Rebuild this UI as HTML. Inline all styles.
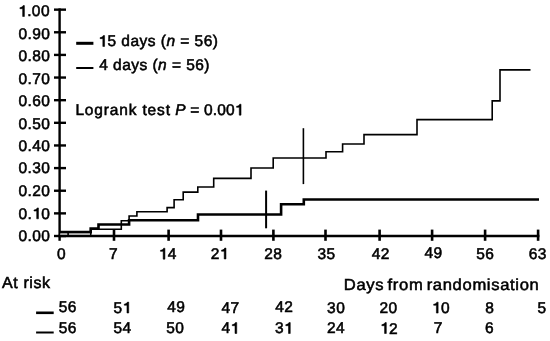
<!DOCTYPE html>
<html><head><meta charset="utf-8"><style>
html,body{margin:0;padding:0;background:#fff;}
body{width:550px;height:341px;overflow:hidden;}
svg{display:block;will-change:transform;}
text{text-rendering:geometricPrecision;font-family:"Liberation Sans", sans-serif;font-size:15.5px;fill:#000;stroke:#000;stroke-width:0.55px;}
.one{fill:none;stroke:none;}
.og{fill:#000;stroke:#000;stroke-width:72.67;}
</style></head><body>
<svg width="550" height="341" viewBox="0 0 550 341">
<rect width="550" height="341" fill="#fff"/>
<line x1="59.6" y1="8.4" x2="59.6" y2="240.8" stroke="#000" stroke-width="2.4"/>
<line x1="54" y1="236.00" x2="66" y2="236.00" stroke="#000" stroke-width="2.4"/>
<line x1="54" y1="213.37" x2="66" y2="213.37" stroke="#000" stroke-width="2.4"/>
<line x1="54" y1="190.73" x2="66" y2="190.73" stroke="#000" stroke-width="2.4"/>
<line x1="54" y1="168.09" x2="66" y2="168.09" stroke="#000" stroke-width="2.4"/>
<line x1="54" y1="145.46" x2="66" y2="145.46" stroke="#000" stroke-width="2.4"/>
<line x1="54" y1="122.82" x2="66" y2="122.82" stroke="#000" stroke-width="2.4"/>
<line x1="54" y1="100.19" x2="66" y2="100.19" stroke="#000" stroke-width="2.4"/>
<line x1="54" y1="77.55" x2="66" y2="77.55" stroke="#000" stroke-width="2.4"/>
<line x1="54" y1="54.92" x2="66" y2="54.92" stroke="#000" stroke-width="2.4"/>
<line x1="54" y1="32.28" x2="66" y2="32.28" stroke="#000" stroke-width="2.4"/>
<line x1="54" y1="9.65" x2="66" y2="9.65" stroke="#000" stroke-width="2.4"/>
<line x1="58.4" y1="236" x2="539.4" y2="236" stroke="#000" stroke-width="2.4"/>
<line x1="114.0" y1="229.6" x2="114.0" y2="240.8" stroke="#000" stroke-width="2.6"/>
<line x1="168.6" y1="229.6" x2="168.6" y2="240.8" stroke="#000" stroke-width="2.6"/>
<line x1="221.0" y1="229.6" x2="221.0" y2="240.8" stroke="#000" stroke-width="2.6"/>
<line x1="273.4" y1="229.6" x2="273.4" y2="240.8" stroke="#000" stroke-width="2.6"/>
<line x1="325.5" y1="229.6" x2="325.5" y2="240.8" stroke="#000" stroke-width="2.6"/>
<line x1="379.6" y1="229.6" x2="379.6" y2="240.8" stroke="#000" stroke-width="2.6"/>
<line x1="432.1" y1="229.6" x2="432.1" y2="240.8" stroke="#000" stroke-width="2.6"/>
<line x1="485.1" y1="229.6" x2="485.1" y2="240.8" stroke="#000" stroke-width="2.6"/>
<line x1="538.1" y1="229.6" x2="538.1" y2="240.8" stroke="#000" stroke-width="2.6"/>
<polyline points="59.6,236 90.7,236 90.7,229.3 121.3,229.3 121.3,220.7 129.1,220.7 129.1,216 136.9,216 136.9,211.8 167.1,211.8 167.1,207.6 174.1,207.6 174.1,199.8 183.2,199.8 183.2,192.1 197.8,192.1 197.8,187 213.7,187 213.7,178.4 251,178.4 251,168 273.2,168 273.2,158 326,158 326,151.7 342.6,151.7 342.6,144 364,144 364,134.6 417,134.6 417,119.6 492.2,119.6 492.2,100.9 500,100.9 500,69.9 530.5,69.9" fill="none" stroke="#000" stroke-width="1.6"/>
<polyline points="59.6,232.1 90.7,232.1 90.7,228.6 98.5,228.6 98.5,224.5 129.1,224.5 129.1,220.2 198,220.2 198,214.5 281.1,214.5 281.1,204.3 303.8,204.3 303.8,199.5 539,199.5" fill="none" stroke="#000" stroke-width="2.6"/>
<line x1="60" y1="234.1" x2="90" y2="234.1" stroke="#aaa" stroke-width="1.4"/>
<rect x="67.3" y="233" width="1.6" height="2.5" fill="#000"/>
<line x1="266.1" y1="190.6" x2="266.1" y2="228.3" stroke="#000" stroke-width="2"/>
<line x1="303.4" y1="128.2" x2="303.4" y2="184.1" stroke="#000" stroke-width="1.6"/>
<line x1="76.2" y1="43.3" x2="93.4" y2="43.3" stroke="#000" stroke-width="3"/>
<line x1="76.2" y1="68" x2="93.4" y2="68" stroke="#000" stroke-width="2"/>
<line x1="36.1" y1="312.8" x2="53.7" y2="312.8" stroke="#000" stroke-width="2.6"/>
<line x1="36.1" y1="332.5" x2="53.7" y2="332.5" stroke="#000" stroke-width="2"/>
<g transform="translate(18.44 240.76) scale(1 1.0)"><text id="t0" x="0" y="0" style="letter-spacing:0.40px;word-spacing:0px;font-size:15.5px">0.00</text></g>
<g transform="translate(18.44 218.82) scale(1 1.0)"><text id="t1" x="0" y="0" style="letter-spacing:0.40px;word-spacing:0px;font-size:15.5px">0.<tspan class="one">1</tspan>0</text><path d="M600,0L830,0L830,1440L660,1440C630,1300 450,1190 240,1170L240,1030L600,1030Z" transform="translate(13.73 0.00) scale(0.007568 -0.007568)" class="og"/></g>
<g transform="translate(18.44 196.13) scale(1 1.0)"><text id="t2" x="0" y="0" style="letter-spacing:0.40px;word-spacing:0px;font-size:15.5px">0.20</text></g>
<g transform="translate(18.44 173.39) scale(1 1.0)"><text id="t3" x="0" y="0" style="letter-spacing:0.40px;word-spacing:0px;font-size:15.5px">0.30</text></g>
<g transform="translate(18.44 151.32) scale(1 1.0)"><text id="t4" x="0" y="0" style="letter-spacing:0.40px;word-spacing:0px;font-size:15.5px">0.40</text></g>
<g transform="translate(18.44 128.62) scale(1 1.0)"><text id="t5" x="0" y="0" style="letter-spacing:0.40px;word-spacing:0px;font-size:15.5px">0.50</text></g>
<g transform="translate(18.44 106.34) scale(1 1.0)"><text id="t6" x="0" y="0" style="letter-spacing:0.40px;word-spacing:0px;font-size:15.5px">0.60</text></g>
<g transform="translate(18.44 83.82) scale(1 1.0)"><text id="t7" x="0" y="0" style="letter-spacing:0.40px;word-spacing:0px;font-size:15.5px">0.70</text></g>
<g transform="translate(18.44 60.90) scale(1 1.0)"><text id="t8" x="0" y="0" style="letter-spacing:0.40px;word-spacing:0px;font-size:15.5px">0.80</text></g>
<g transform="translate(18.44 38.77) scale(1 1.0)"><text id="t9" x="0" y="0" style="letter-spacing:0.40px;word-spacing:0px;font-size:15.5px">0.90</text></g>
<g transform="translate(18.12 16.49) scale(1 1.0)"><text id="t10" x="0" y="0" style="letter-spacing:0.40px;word-spacing:0px;font-size:15.5px"><tspan class="one">1</tspan>.00</text><path d="M600,0L830,0L830,1440L660,1440C630,1300 450,1190 240,1170L240,1030L600,1030Z" transform="translate(0.00 0.00) scale(0.007568 -0.007568)" class="og"/></g>
<g transform="translate(56.94 258.70) scale(1 1.0)"><text id="t11" x="0" y="0" style="letter-spacing:0.40px;word-spacing:0px;font-size:15.5px">0</text></g>
<g transform="translate(109.12 258.51) scale(1 1.0)"><text id="t12" x="0" y="0" style="letter-spacing:0.40px;word-spacing:0px;font-size:15.5px">7</text></g>
<g transform="translate(158.64 259.14) scale(1 1.0)"><text id="t13" x="0" y="0" style="letter-spacing:0.40px;word-spacing:0px;font-size:15.5px"><tspan class="one">1</tspan>4</text><path d="M600,0L830,0L830,1440L660,1440C630,1300 450,1190 240,1170L240,1030L600,1030Z" transform="translate(0.00 0.00) scale(0.007568 -0.007568)" class="og"/></g>
<g transform="translate(210.65 258.99) scale(1 1.0)"><text id="t14" x="0" y="0" style="letter-spacing:0.40px;word-spacing:0px;font-size:15.5px">2<tspan class="one">1</tspan></text><path d="M600,0L830,0L830,1440L660,1440C630,1300 450,1190 240,1170L240,1030L600,1030Z" transform="translate(9.03 0.00) scale(0.007568 -0.007568)" class="og"/></g>
<g transform="translate(264.16 258.70) scale(1 1.0)"><text id="t15" x="0" y="0" style="letter-spacing:0.40px;word-spacing:0px;font-size:15.5px">28</text></g>
<g transform="translate(317.39 259.02) scale(1 1.0)"><text id="t16" x="0" y="0" style="letter-spacing:0.40px;word-spacing:0px;font-size:15.5px">35</text></g>
<g transform="translate(371.75 259.00) scale(1 1.0)"><text id="t17" x="0" y="0" style="letter-spacing:0.40px;word-spacing:0px;font-size:15.5px">42</text></g>
<g transform="translate(424.43 258.40) scale(1 1.0)"><text id="t18" x="0" y="0" style="letter-spacing:0.40px;word-spacing:0px;font-size:15.5px">49</text></g>
<g transform="translate(476.31 258.94) scale(1 1.0)"><text id="t19" x="0" y="0" style="letter-spacing:0.40px;word-spacing:0px;font-size:15.5px">56</text></g>
<g transform="translate(528.83 258.56) scale(1 1.0)"><text id="t20" x="0" y="0" style="letter-spacing:0.40px;word-spacing:0px;font-size:15.5px">63</text></g>
<g transform="translate(98.29 46.45) scale(1 1.0)"><text id="t21" x="0" y="0" style="letter-spacing:0.48px;word-spacing:0px;font-size:15.5px"><tspan class="one">1</tspan>5 days (<tspan font-style="italic">n</tspan> = 56)</text><path d="M600,0L830,0L830,1440L660,1440C630,1300 450,1190 240,1170L240,1030L600,1030Z" transform="translate(0.00 0.00) scale(0.007568 -0.007568)" class="og"/></g>
<g transform="translate(99.20 70.00) scale(1 1.0)"><text id="t22" x="0" y="0" style="letter-spacing:0.46px;word-spacing:0px;font-size:15.5px">4 days (<tspan font-style="italic">n</tspan> = 56)</text></g>
<g transform="translate(75.41 115.45) scale(1 1.0)"><text id="t23" x="0" y="0" style="letter-spacing:0.84px;word-spacing:0px;font-size:15.5px">Logrank test</text></g>
<g transform="translate(175.35 115.13) scale(1 1.0)"><text id="t24" x="0" y="0" style="letter-spacing:0.15px;word-spacing:0px;font-size:15.5px"><tspan font-style="italic">P</tspan> = 0.00<tspan class="one">1</tspan></text><path d="M600,0L830,0L830,1440L660,1440C630,1300 450,1190 240,1170L240,1030L600,1030Z" transform="translate(59.39 0.00) scale(0.007568 -0.007568)" class="og"/></g>
<g transform="translate(2.08 288.23) scale(1 1.0)"><text id="t25" x="0" y="0" style="letter-spacing:0.59px;word-spacing:0px;font-size:16.0px">At risk</text></g>
<g transform="translate(343.83 290.36) scale(1 0.955)"><text id="t26" x="0" y="0" style="letter-spacing:0.66px;word-spacing:-2.0px;font-size:16.6px">Days from randomisation</text></g>
<g transform="translate(58.63 312.47) scale(1 1.0)"><text id="t27" x="0" y="0" style="letter-spacing:0.40px;word-spacing:0px;font-size:15.5px">56</text></g>
<g transform="translate(113.41 313.00) scale(1 1.0)"><text id="t28" x="0" y="0" style="letter-spacing:0.40px;word-spacing:0px;font-size:15.5px">5<tspan class="one">1</tspan></text><path d="M600,0L830,0L830,1440L660,1440C630,1300 450,1190 240,1170L240,1030L600,1030Z" transform="translate(9.03 0.00) scale(0.007568 -0.007568)" class="og"/></g>
<g transform="translate(167.24 312.43) scale(1 1.0)"><text id="t29" x="0" y="0" style="letter-spacing:0.40px;word-spacing:0px;font-size:15.5px">49</text></g>
<g transform="translate(221.43 313.03) scale(1 1.0)"><text id="t30" x="0" y="0" style="letter-spacing:0.40px;word-spacing:0px;font-size:15.5px">47</text></g>
<g transform="translate(275.20 312.44) scale(1 1.0)"><text id="t31" x="0" y="0" style="letter-spacing:0.40px;word-spacing:0px;font-size:15.5px">42</text></g>
<g transform="translate(327.12 312.68) scale(1 1.0)"><text id="t32" x="0" y="0" style="letter-spacing:0.40px;word-spacing:0px;font-size:15.5px">30</text></g>
<g transform="translate(379.43 312.56) scale(1 1.0)"><text id="t33" x="0" y="0" style="letter-spacing:0.40px;word-spacing:0px;font-size:15.5px">20</text></g>
<g transform="translate(431.85 313.07) scale(1 1.0)"><text id="t34" x="0" y="0" style="letter-spacing:0.40px;word-spacing:0px;font-size:15.5px"><tspan class="one">1</tspan>0</text><path d="M600,0L830,0L830,1440L660,1440C630,1300 450,1190 240,1170L240,1030L600,1030Z" transform="translate(0.00 0.00) scale(0.007568 -0.007568)" class="og"/></g>
<g transform="translate(485.18 312.84) scale(1 1.0)"><text id="t35" x="0" y="0" style="letter-spacing:0.40px;word-spacing:0px;font-size:15.5px">8</text></g>
<g transform="translate(537.54 313.02) scale(1 1.0)"><text id="t36" x="0" y="0" style="letter-spacing:0.40px;word-spacing:0px;font-size:15.5px">5</text></g>
<g transform="translate(58.63 333.43) scale(1 1.0)"><text id="t37" x="0" y="0" style="letter-spacing:0.40px;word-spacing:0px;font-size:15.5px">56</text></g>
<g transform="translate(113.41 333.40) scale(1 1.0)"><text id="t38" x="0" y="0" style="letter-spacing:0.40px;word-spacing:0px;font-size:15.5px">54</text></g>
<g transform="translate(166.31 333.13) scale(1 1.0)"><text id="t39" x="0" y="0" style="letter-spacing:0.40px;word-spacing:0px;font-size:15.5px">50</text></g>
<g transform="translate(221.43 333.49) scale(1 1.0)"><text id="t40" x="0" y="0" style="letter-spacing:0.40px;word-spacing:0px;font-size:15.5px">4<tspan class="one">1</tspan></text><path d="M600,0L830,0L830,1440L660,1440C630,1300 450,1190 240,1170L240,1030L600,1030Z" transform="translate(9.03 0.00) scale(0.007568 -0.007568)" class="og"/></g>
<g transform="translate(274.94 333.49) scale(1 1.0)"><text id="t41" x="0" y="0" style="letter-spacing:0.40px;word-spacing:0px;font-size:15.5px">3<tspan class="one">1</tspan></text><path d="M600,0L830,0L830,1440L660,1440C630,1300 450,1190 240,1170L240,1030L600,1030Z" transform="translate(9.03 0.00) scale(0.007568 -0.007568)" class="og"/></g>
<g transform="translate(326.94 333.37) scale(1 1.0)"><text id="t42" x="0" y="0" style="letter-spacing:0.40px;word-spacing:0px;font-size:15.5px">24</text></g>
<g transform="translate(380.03 333.51) scale(1 1.0)"><text id="t43" x="0" y="0" style="letter-spacing:0.40px;word-spacing:0px;font-size:15.5px"><tspan class="one">1</tspan>2</text><path d="M600,0L830,0L830,1440L660,1440C630,1300 450,1190 240,1170L240,1030L600,1030Z" transform="translate(0.00 0.00) scale(0.007568 -0.007568)" class="og"/></g>
<g transform="translate(433.66 333.13) scale(1 1.0)"><text id="t44" x="0" y="0" style="letter-spacing:0.40px;word-spacing:0px;font-size:15.5px">7</text></g>
<g transform="translate(484.99 332.99) scale(1 1.0)"><text id="t45" x="0" y="0" style="letter-spacing:0.40px;word-spacing:0px;font-size:15.5px">6</text></g>
</svg>
</body></html>
